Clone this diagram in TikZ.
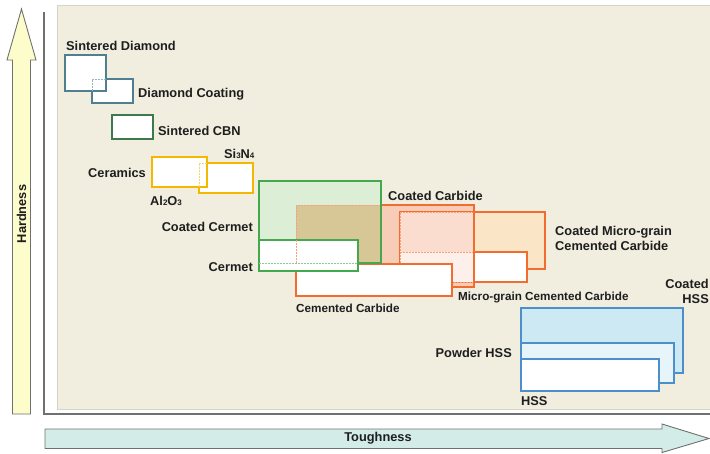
\documentclass[tikz,border=0pt]{standalone}
\usepackage{fontspec}
\setmainfont{Liberation Sans}
\definecolor{panel}{HTML}{F1EDDF}
\definecolor{panelborder}{HTML}{D6D3C9}
\definecolor{axisgray}{HTML}{707070}
\definecolor{hardfill}{HTML}{FDFDCB}
\definecolor{toughfill}{HTML}{D3ECE8}
\definecolor{diam}{HTML}{4F7F91}
\definecolor{cbn}{HTML}{3C7A4E}
\definecolor{cer}{HTML}{F5B800}
\definecolor{cerlt}{HTML}{F8D36A}
\definecolor{grn}{HTML}{43A84E}
\definecolor{grnlt}{HTML}{8CCB94}
\definecolor{grnfill}{HTML}{DCEFD6}
\definecolor{tan}{HTML}{D7C796}
\definecolor{carb}{HTML}{F26B2F}
\definecolor{carblt}{HTML}{F7A07A}
\definecolor{carbfill}{HTML}{F8CDB8}
\definecolor{peach}{HTML}{FAE6C6}
\definecolor{pinkov}{HTML}{FADDCE}
\definecolor{pinkwh}{HTML}{FDF0EB}
\definecolor{hss}{HTML}{4B8FCB}
\definecolor{hssfill}{HTML}{CDE9F4}
\definecolor{powfill}{HTML}{E7F4FA}
\definecolor{diamlt}{HTML}{93B3BF}
\definecolor{labeltext}{HTML}{1E1E1E}
\newcommand\lblfont{\fontsize{12.8}{15}\selectfont\bfseries}
\newcommand\lblsmall{\fontsize{11.7}{14}\selectfont\bfseries}
\newcommand\subnum[1]{\raisebox{-0.5pt}{\fontsize{8}{8}\selectfont #1}}
\begin{document}
\begin{tikzpicture}[x=1pt,y=-1pt,
  box/.style={line width=1.6pt},
  hid/.style={line width=0.9pt, dash pattern=on 1.6pt off 1.4pt},
  lbl/.style={font=\lblfont, text=labeltext, inner sep=0pt},
  lbls/.style={font=\lblsmall, text=labeltext, inner sep=0pt},
  bigarrow/.style={draw=axisgray, line width=0.9pt, line join=miter}]
\useasboundingbox (0,0) rectangle (710,453);
% panel and axes
\draw[panelborder, fill=panel, line width=1pt] (57,5) rectangle (714,409);
\draw[axisgray, line width=2pt] (44,12) -- (44,414) -- (712,414);
% hardness arrow
\draw[bigarrow, fill=hardfill] (12.5,414) -- (12.5,60) -- (7,60) -- (21.5,9) -- (36,60) -- (30.5,60) -- (30.5,414) -- cycle;
\node[lbl, rotate=90] (hard) at (21.5,214) {Hardness};
% toughness arrow
\draw[bigarrow, fill=toughfill] (45,429) -- (662,429) -- (662,424) -- (709,438.5) -- (662,452.5) -- (662,448.5) -- (45,448.5) -- cycle;
\node[lbl] (tough) at (378,438.5) {Toughness};
% diamond
\draw[box, diam, fill=white] (92,79) rectangle (133,103);
\draw[box, diam, fill=white] (65,55) rectangle (106,91);
\draw[hid, diamlt] (92,91) -- (92,79) -- (106,79);
\node[lbl, anchor=west] (sd) at (66,46) {Sintered Diamond};
\node[lbl, anchor=west] (dc) at (138,94) {Diamond Coating};
% CBN
\draw[box, cbn, fill=white] (112,115) rectangle (153,139);
\node[lbl, anchor=west] (cbnl) at (158,131) {Sintered CBN};
% ceramics
\draw[box, cer, fill=white] (199,163) rectangle (253,193);
\draw[box, cer, fill=white] (152,157) rectangle (207,187);
\draw[hid, cerlt] (199,187) -- (199,163) -- (207,163);
\node[lbl, anchor=west] (si) at (224,154) {Si\subnum{3}N\subnum{4}};
\node[lbl, anchor=west] (cerl) at (88,173) {Ceramics};
\node[lbl, anchor=west] (al) at (150,201) {Al\subnum{2}O\subnum{3}};
% carbide group
\draw[box, carb, fill=carbfill] (296,205) rectangle (474,287);
\draw[box, carb, fill=peach] (400,212) rectangle (545,269);
\draw[box, carb, fill=white] (400,252) rectangle (527,282);
\begin{scope}
  \clip (296,205) rectangle (474,287);
  \fill[pinkov] (400,212) rectangle (474,252);
  \fill[pinkwh] (400,252) rectangle (474,282);
  \draw[hid, carblt] (474,212) -- (400,212) -- (400,282) -- (474,282);
  \draw[hid, carblt] (400,252) -- (474,252);
\end{scope}
\draw[box, carb] (296,205) rectangle (474,287);
\draw[box, carb, fill=white] (296,264) rectangle (452,296);
% cermet group
\draw[box, grn, fill=grnfill] (259,181) rectangle (381,263);
\fill[tan] (296,205) rectangle (381,263);
\draw[hid, carblt] (296,263) -- (296,205) -- (381,205);
\draw[box, grn] (259,181) rectangle (381,263);
\draw[box, grn, fill=white] (259,240) rectangle (358,271);
\draw[hid, grnlt] (259,263) -- (358,263);
\draw[hid, carblt] (296,240) -- (296,264);
\node[lbl, anchor=east] (ccm) at (253,227) {Coated Cermet};
\node[lbl, anchor=east] (cm) at (253,267) {Cermet};
\node[lbl, anchor=west] (cc) at (388,196) {Coated Carbide};
\node[lbl, anchor=west, align=left] (cmg) at (555,238.5) {Coated Micro-grain\\Cemented Carbide};
\node[lbls, anchor=west] (cem) at (296,308) {Cemented Carbide};
\node[lbls, anchor=west] (mg) at (458,297) {Micro-grain Cemented Carbide};
% HSS group
\draw[box, hss, fill=hssfill] (521,308) rectangle (683,373);
\draw[box, hss, fill=powfill] (521,343) rectangle (674,383);
\draw[box, hss, fill=white] (521,359) rectangle (659,391);
\node[lbl, anchor=east, align=right] (chss) at (709,291.5) {Coated\\HSS};
\node[lbl, anchor=east] (phss) at (512,353) {Powder HSS};
\node[lbl, anchor=west] (hssl) at (521,401) {HSS};
\end{tikzpicture}
\end{document}
